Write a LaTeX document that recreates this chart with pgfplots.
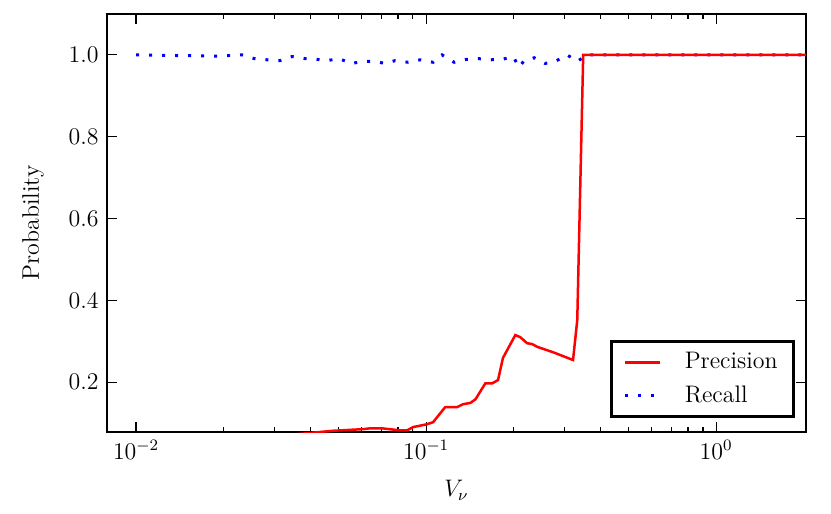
\documentclass[border=0pt]{standalone}
\usepackage{pgfplots}
\pgfplotsset{compat=1.18}
\begin{document}
\fontsize{12}{14.4}\selectfont
\begin{tikzpicture}
\path[use as bounding box] (-53.5bp,-41bp) rectangle (362bp,216bp);
\begin{axis}[
  scale only axis,
  width=349.5bp, height=209bp,
  xmode=log,
  xmin=0.00794, xmax=2.04,
  ymin=0.078, ymax=1.1,
  ytick={0.2,0.4,0.6,0.8,1.0},
  yticklabel style={/pgf/number format/fixed,/pgf/number format/fixed zerofill,/pgf/number format/precision=1},
  xtick={0.01,0.1,1},
  tick align=inside,
  xtick pos=both, ytick pos=both,
  major tick length=5bp, minor tick length=2.5bp,
  tick style={black, line width=0.6pt},
  axis line style={line width=1.4pt},
  xlabel={$V_\nu$},
  ylabel={Probability},
  xlabel style={at={(axis description cs:0.5,-0.139)}, anchor=center},
  ylabel style={at={(axis description cs:-0.1059,0.5)}, anchor=center},
  legend style={at={(1,0)}, anchor=south east, xshift=-5.5bp, yshift=7bp,
    draw=black, line width=1.4pt, inner xsep=6bp, inner ysep=3.5bp, row sep=2.5bp,
    font=\fontsize{12}{14.4}\selectfont, cells={anchor=west}},
  legend cell align=left,
  legend image code/.code={\draw[#1] (0bp,0bp) -- (17.5bp,0bp); \path (27bp,0bp);},
]
\addlegendimage{red, line width=1.25bp}
\addlegendentry{Precision}
\addplot[blue, line width=1.5bp, dash pattern=on 1.5bp off 5bp] coordinates {
(0.01,1.0) (0.01889,0.997) (0.02321,1.0) (0.02553,0.991) (0.02829,0.988)
(0.03138,0.986) (0.03451,0.996) (0.03826,0.991) (0.04209,0.989) (0.04557,0.986)
(0.05012,0.991) (0.05512,0.979) (0.06064,0.984) (0.06672,0.984) (0.07223,0.979)
(0.07819,0.986) (0.08670,0.982) (0.09535,0.988) (0.1057,0.982) (0.1135,1.0)
(0.1249,0.982) (0.1374,0.989) (0.1511,0.991) (0.1662,0.988) (0.1829,0.989)
(0.1995,0.996) (0.2093,0.970) (0.2177,0.986) (0.2358,0.993) (0.2573,0.979)
(0.2786,0.984) (0.3064,1.0) (0.3316,0.984) (0.3591,1.0) (2.04,1.0)
};
\addlegendentry{Recall}
\addplot[red, line width=1.25bp, forget plot] coordinates {
(0.008,0.05) (0.02,0.06) (0.035,0.072) (0.0478,0.081) (0.0607,0.085) (0.0641,0.087)
(0.0705,0.087) (0.0813,0.082) (0.0860,0.082) (0.0902,0.090) (0.1007,0.097)
(0.1057,0.102) (0.1164,0.139) (0.128,0.139) (0.134,0.146) (0.142,0.149)
(0.148,0.158) (0.160,0.197) (0.169,0.197) (0.177,0.205) (0.184,0.259)
(0.203,0.315) (0.211,0.310) (0.223,0.295) (0.232,0.293) (0.242,0.286)
(0.274,0.273) (0.321,0.254) (0.332,0.352) (0.348,1.0) (2.04,1.0)
};
\end{axis}
\end{tikzpicture}
\end{document}
